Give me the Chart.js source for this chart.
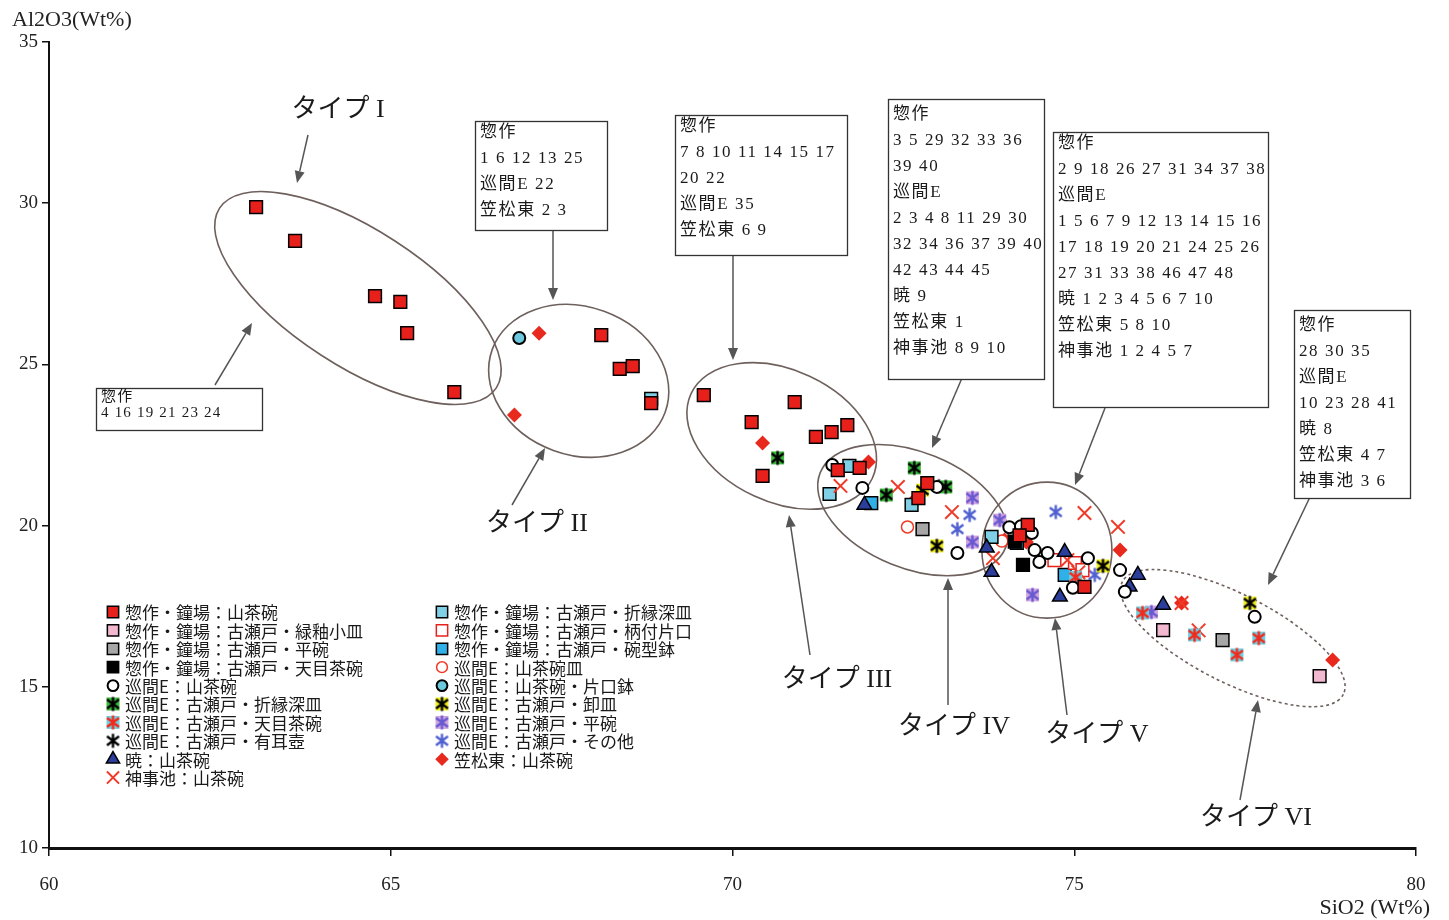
<!DOCTYPE html>
<html lang="ja">
<head>
<meta charset="utf-8">
<title>SiO2 - Al2O3</title>
<script src="https://cdn.jsdelivr.net/npm/chart.js"></script>
<style>
  html, body { margin: 0; padding: 0; background: #fff; }
  #wrap { width: 1449px; height: 920px; position: relative; }
</style>
</head>
<body>
<div id="wrap"><canvas id="chart"></canvas></div>
<script>
// SiO2 / Al2O3 の散布図（タイプ I ～ VI）

// --- データ [SiO2, Al2O3] ---
const sosakuYamachawan = [[63.03,29.88],[63.60,28.83],[64.77,27.12],[65.14,26.94],[65.24,25.97],[65.93,24.14],
  [68.08,25.91],[68.35,24.86],[68.54,24.95],[68.81,23.80],
  [69.58,24.05],[70.91,23.83],[70.28,23.21],[71.22,22.75],[71.45,22.90],[71.68,23.12],[70.44,21.54],
  [71.54,21.72],[71.86,21.79],[72.85,21.32],[72.72,20.85],
  [74.32,20.02],[74.20,19.70],[75.15,18.10]];
const sosakuRyokuyu = [[76.30,16.76],[78.59,15.33]];
const sosakuHirawan = [[72.78,19.89],[77.17,16.45]];
const sosakuTenmoku = [[74.25,18.78],[74.13,19.50]];
const junkanYamachawan = [[71.46,21.88],[71.90,21.17],[72.99,21.20],[73.29,19.15],[74.05,19.95],[74.22,19.98],
  [74.38,19.77],[74.42,19.24],[74.49,18.87],[74.61,19.15],[75.20,18.99],[74.98,18.07],[75.67,18.62],
  [75.74,17.95],[77.64,17.17]];
const junkanOrienuka = [[70.66,22.10],[72.25,20.95],[72.66,21.79],[73.12,21.20]];
const junkanTenmoku = [[76.00,17.29],[76.76,16.61],[77.38,15.99],[77.70,16.51],[75.02,18.40]];
const junkanYujiko = [[73.02,21.22]];
const akatsukiYamachawan = [[71.93,20.64],[73.72,19.31],[73.79,18.56],[74.86,19.18],[74.79,17.79],
  [75.81,18.10],[75.93,18.47],[76.30,17.54]];
const jinjiYamachawan = [[71.58,21.23],[72.42,21.20],[73.21,20.42],[73.81,18.99],[75.15,20.39],[75.64,19.96],
  [74.90,18.93],[75.06,18.55],[76.57,17.60],[76.82,16.75]];
const sosakuOrienuka = [[68.81,23.93],[71.42,20.98],[71.71,21.85],[72.62,20.64],[73.79,19.65]];
const sosakuKatakuchi = [[74.71,18.93],[75.01,18.84],[75.12,18.62]];
const sosakuWangata = [[72.03,20.70],[74.16,19.46],[74.86,18.47]];
const junkanYamachawanZara = [[72.56,19.96],[73.94,19.52]];
const junkanKatakuchi = [[66.88,25.82]];
const junkanOroshi = [[72.78,21.10],[72.99,19.37],[75.42,18.75],[77.57,17.60]];
const junkanHirawan = [[73.51,20.86],[73.51,19.49],[73.91,20.17],[74.39,17.85],[76.13,17.32]];
const junkanSonota = [[73.47,20.33],[73.29,19.89],[74.73,20.42],[75.30,18.47]];
const kasamatsuYamachawan = [[67.17,25.97],[66.81,23.43],[70.44,22.56],[71.99,21.97],[72.66,20.79],
  [74.30,19.49],[73.98,19.55],[75.67,19.24],[76.57,17.60],[78.78,15.83]];

const xTicks = [60, 65, 70, 75, 80];
const yTicks = [10, 15, 20, 25, 30, 35];

// アスタリスク型のマーカー（背景色つき）
function asteriskMarker(bg, fg) {
  const c = document.createElement('canvas');
  c.width = 17; c.height = 17;
  const g = c.getContext('2d');
  if (bg) { g.fillStyle = bg; g.fillRect(2, 2, 13, 13); }
  g.strokeStyle = fg;
  g.lineWidth = 2.4;
  g.beginPath();
  g.moveTo(8.5, 1.5); g.lineTo(8.5, 15.5);
  g.moveTo(2.5, 4); g.lineTo(14.5, 13);
  g.moveTo(2.5, 13); g.lineTo(14.5, 4);
  g.stroke();
  return c;
}

function series(label, pts, style) {
  return Object.assign({
    label: label,
    data: pts.map(p => ({ x: p[0], y: p[1] })),
    borderWidth: 1.5,
    borderColor: '#000'
  }, style);
}

const datasets = [
  series('惣作・鐘場：山茶碗', sosakuYamachawan, { pointStyle: 'rect', pointRadius: 9, backgroundColor: '#e8201c' }),
  series('惣作・鐘場：古瀬戸・緑釉小皿', sosakuRyokuyu, { pointStyle: 'rect', pointRadius: 9, backgroundColor: '#f2b8d0' }),
  series('惣作・鐘場：古瀬戸・平碗', sosakuHirawan, { pointStyle: 'rect', pointRadius: 9, backgroundColor: '#a6a6a6' }),
  series('惣作・鐘場：古瀬戸・天目茶碗', sosakuTenmoku, { pointStyle: 'rect', pointRadius: 9, backgroundColor: '#000' }),
  series('巡間E：山茶碗', junkanYamachawan, { pointStyle: 'circle', pointRadius: 6, backgroundColor: '#fff', borderWidth: 2 }),
  series('巡間E：古瀬戸・折縁深皿', junkanOrienuka, { pointStyle: asteriskMarker('#3cb93c', '#000'), pointRadius: 8 }),
  series('巡間E：古瀬戸・天目茶碗', junkanTenmoku, { pointStyle: asteriskMarker('#6fd0e0', '#f02a1e'), pointRadius: 8 }),
  series('巡間E：古瀬戸・有耳壺', junkanYujiko, { pointStyle: asteriskMarker(null, '#000'), pointRadius: 8 }),
  series('暁：山茶碗', akatsukiYamachawan, { pointStyle: 'triangle', pointRadius: 8.5, backgroundColor: '#2c3e9c' }),
  series('神事池：山茶碗', jinjiYamachawan, { pointStyle: 'crossRot', pointRadius: 9.5, borderColor: '#f03a28', borderWidth: 2 }),
  series('惣作・鐘場：古瀬戸・折縁深皿', sosakuOrienuka, { pointStyle: 'rect', pointRadius: 9, backgroundColor: '#7fd0e6' }),
  series('惣作・鐘場：古瀬戸・柄付片口', sosakuKatakuchi, { pointStyle: 'rect', pointRadius: 9, backgroundColor: '#fff', borderColor: '#e8201c' }),
  series('惣作・鐘場：古瀬戸・碗型鉢', sosakuWangata, { pointStyle: 'rect', pointRadius: 9, backgroundColor: '#2fb0e8' }),
  series('巡間E：山茶碗皿', junkanYamachawanZara, { pointStyle: 'circle', pointRadius: 6, backgroundColor: '#fff', borderColor: '#f03a28' }),
  series('巡間E：山茶碗・片口鉢', junkanKatakuchi, { pointStyle: 'circle', pointRadius: 6, backgroundColor: '#6cc8dc', borderWidth: 2 }),
  series('巡間E：古瀬戸・卸皿', junkanOroshi, { pointStyle: asteriskMarker('#f0ee20', '#000'), pointRadius: 8 }),
  series('巡間E：古瀬戸・平碗', junkanHirawan, { pointStyle: asteriskMarker('#d2a6e2', '#6a5ad0'), pointRadius: 8 }),
  series('巡間E：古瀬戸・その他', junkanSonota, { pointStyle: asteriskMarker(null, '#5060d0'), pointRadius: 8 }),
  series('笠松東：山茶碗', kasamatsuYamachawan, { pointStyle: 'rectRot', pointRadius: 7.5, backgroundColor: '#e82a1e', borderColor: '#e82a1e', borderWidth: 0 })
];

// 楕円（中心はデータ座標、半径はピクセル）
const groupEllipses = [
  { x: 64.52, y: 27.06, rx: 165, ry: 68, rot: 33 },
  { x: 67.75, y: 24.49, rx: 92, ry: 74, rot: 20 },
  { x: 70.72, y: 22.78, rx: 100, ry: 66, rot: 25 },
  { x: 72.64, y: 20.48, rx: 100, ry: 58, rot: 22 },
  { x: 74.60, y: 19.24, rx: 65, ry: 68, rot: 0 },
  { x: 77.32, y: 16.51, rx: 124, ry: 44, rot: 27, dash: true }
];

const noteBoxes = [
  { x: 96, y: 388, w: 166, h: 42, size: 15, lh: 16, first: 9, lines: ['惣作', '4 16 19 21 23 24'] },
  { x: 475, y: 121, w: 132, h: 109, first: 12, lines: ['惣作', '1 6 12 13 25', '巡間E 22', '笠松東 2 3'] },
  { x: 675, y: 115, w: 172, h: 140, first: 12, lines: ['惣作', '7 8 10 11 14 15 17', '20 22', '巡間E 35', '笠松東 6 9'] },
  { x: 888, y: 99, w: 156, h: 280, first: 16, lines: ['惣作', '3 5 29 32 33 36', '39 40', '巡間E', '2 3 4 8 11 29 30',
    '32 34 36 37 39 40', '42 43 44 45', '暁 9', '笠松東 1', '神事池 8 9 10'] },
  { x: 1053, y: 132, w: 215, h: 275, first: 12, lines: ['惣作', '2 9 18 26 27 31 34 37 38', '巡間E', '1 5 6 7 9 12 13 14 15 16',
    '17 18 19 20 21 24 25 26', '27 31 33 38 46 47 48', '暁 1 2 3 4 5 6 7 10', '笠松東 5 8 10', '神事池 1 2 4 5 7'] },
  { x: 1294, y: 310, w: 116, h: 188, first: 16, lines: ['惣作', '28 30 35', '巡間E', '10 23 28 41', '暁 8', '笠松東 4 7', '神事池 3 6'] }
];

const typeLabels = [
  { text: 'タイプ I', x: 338, y: 110 },
  { text: 'タイプ II', x: 537, y: 524 },
  { text: 'タイプ III', x: 837, y: 680 },
  { text: 'タイプ IV', x: 954, y: 727 },
  { text: 'タイプ V', x: 1097, y: 735 },
  { text: 'タイプ VI', x: 1256, y: 818 }
];

const arrows = [
  [308, 135, 297, 183], [215, 385, 252, 323], [553, 230, 553, 300], [512, 505, 545, 448],
  [733, 255, 733, 360], [810, 655, 789, 515], [962, 378, 932, 448], [948, 705, 948, 578],
  [1105, 408, 1075, 485], [1067, 715, 1055, 618], [1310, 497, 1268, 585], [1240, 800, 1258, 700]
];

function drawArrow(ctx, x1, y1, x2, y2) {
  const a = Math.atan2(y2 - y1, x2 - x1);
  const L = 12, W = 5;
  const bx = x2 - Math.cos(a) * L, by = y2 - Math.sin(a) * L;
  ctx.beginPath();
  ctx.moveTo(x1, y1);
  ctx.lineTo(bx, by);
  ctx.stroke();
  ctx.beginPath();
  ctx.moveTo(x2, y2);
  ctx.lineTo(bx + Math.sin(a) * W, by - Math.cos(a) * W);
  ctx.lineTo(bx - Math.sin(a) * W, by + Math.cos(a) * W);
  ctx.closePath();
  ctx.fill();
}

const annotations = {
  id: 'annotations',
  beforeDraw(chart) {
    const ctx = chart.ctx;
    ctx.save();
    ctx.fillStyle = '#fff';
    ctx.fillRect(0, 0, chart.width, chart.height);
    ctx.restore();
  },
  beforeDatasetsDraw(chart) {
    const ctx = chart.ctx, xs = chart.scales.x, ys = chart.scales.y;
    ctx.save();
    ctx.strokeStyle = '#6e605c';
    ctx.lineWidth = 1.6;
    groupEllipses.forEach(e => {
      ctx.setLineDash(e.dash ? [3, 3] : []);
      ctx.beginPath();
      ctx.ellipse(xs.getPixelForValue(e.x), ys.getPixelForValue(e.y), e.rx, e.ry, e.rot * Math.PI / 180, 0, Math.PI * 2);
      ctx.stroke();
    });
    ctx.restore();
  },
  afterDraw(chart) {
    const ctx = chart.ctx;
    ctx.save();

    // 矢印
    ctx.strokeStyle = '#555';
    ctx.fillStyle = '#555';
    ctx.lineWidth = 1.5;
    arrows.forEach(a => drawArrow(ctx, a[0], a[1], a[2], a[3]));

    // 注記ボックス
    ctx.textBaseline = 'middle';
    ctx.textAlign = 'left';
    noteBoxes.forEach(b => {
      ctx.fillStyle = '#fff';
      ctx.fillRect(b.x, b.y, b.w, b.h);
      ctx.strokeStyle = '#333';
      ctx.lineWidth = 1.3;
      ctx.strokeRect(b.x + 0.5, b.y + 0.5, b.w, b.h);
      const size = b.size || 17, lh = b.lh || 26;
      ctx.font = size + "px 'Liberation Serif', 'Noto Sans CJK JP'";
      ctx.letterSpacing = (size > 15 ? 1.6 : 1.2) + 'px';
      ctx.fillStyle = '#1a1a1a';
      b.lines.forEach((t, i) => ctx.fillText(t, b.x + 5, b.y + b.first + i * lh));
    });
    ctx.letterSpacing = '0px';

    // タイプ ラベル
    ctx.textAlign = 'center';
    ctx.fillStyle = '#1a1a1a';
    ctx.font = "26px 'Liberation Serif', 'Noto Sans CJK JP'";
    typeLabels.forEach(l => ctx.fillText(l.text, l.x, l.y));

    // 凡例（2列）
    ctx.textAlign = 'left';
    ctx.font = "17px 'Noto Sans CJK JP'";
    chart.data.datasets.forEach((ds, i) => {
      const col = i < 10 ? 0 : 1;
      const row = i < 10 ? i : i - 10;
      const mx = col === 0 ? 113 : 442;
      const my = 612 + row * 18.4;
      ctx.save();
      ctx.fillStyle = ds.backgroundColor || '#000';
      ctx.strokeStyle = ds.borderColor;
      ctx.lineWidth = ds.borderWidth;
      Chart.helpers.drawPoint(ctx, {
        pointStyle: ds.pointStyle,
        radius: ds.pointStyle === 'rect' ? 8 : ds.pointRadius * 0.9,
        borderWidth: ds.borderWidth,
        rotation: 0
      }, mx, my);
      ctx.restore();
      ctx.fillStyle = '#1a1a1a';
      ctx.fillText(ds.label, mx + 12, my + 1);
    });

    // 軸タイトル
    ctx.font = "22px 'Liberation Serif', serif";
    ctx.fillStyle = '#222';
    ctx.textAlign = 'left';
    ctx.fillText('Al2O3(Wt%)', 12, 20);
    ctx.textAlign = 'right';
    ctx.fillText('SiO2 (Wt%)', 1430, 908);
    ctx.restore();
  }
};

new Chart(document.getElementById('chart'), {
  type: 'scatter',
  data: { datasets: datasets },
  options: {
    responsive: true,
    maintainAspectRatio: false,
    animation: false,
    devicePixelRatio: 1,
    layout: { padding: { top: 42, right: 33, left: 0, bottom: 0 } },
    plugins: {
      legend: { display: false },
      tooltip: { enabled: false }
    },
    scales: {
      x: {
        type: 'linear',
        min: 60,
        max: 80,
        afterFit: (scale) => { scale.height = 72; },
        afterBuildTicks: (scale) => { scale.ticks = xTicks.map(v => ({ value: v })); },
        border: { display: true, color: '#111', width: 3 },
        grid: { display: true, drawOnChartArea: false, drawTicks: true, tickLength: 8, color: '#111', lineWidth: 1.5 },
        ticks: { color: '#222', padding: 18, font: { family: "'Liberation Serif', serif", size: 19 } }
      },
      y: {
        type: 'linear',
        min: 10,
        max: 35,
        afterFit: (scale) => { scale.width = 49; },
        afterBuildTicks: (scale) => { scale.ticks = yTicks.map(v => ({ value: v })); },
        border: { display: true, color: '#111', width: 2 },
        grid: { display: true, drawOnChartArea: false, drawTicks: true, tickLength: 7, color: '#111', lineWidth: 1.5 },
        ticks: { color: '#222', padding: 4, font: { family: "'Liberation Serif', serif", size: 19 } }
      }
    }
  },
  plugins: [annotations]
});
</script>
</body>
</html>
